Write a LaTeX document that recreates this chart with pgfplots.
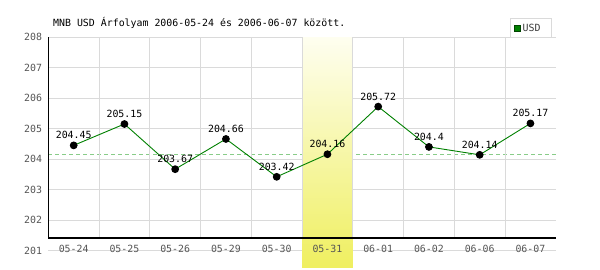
\documentclass[border=0pt]{standalone}
\usepackage{fontspec}
\setmainfont{DejaVu Sans Mono}
\usepackage{pgfplots}
\usepackage{pgfplotstable}
\pgfplotsset{compat=1.18}
\definecolor{gridgray}{HTML}{DADADA}
\definecolor{labelgray}{HTML}{555555}
\definecolor{linegreen}{HTML}{008000}
\definecolor{dashgreen}{HTML}{88CC88}
\definecolor{bandtop}{HTML}{FEFEF0}
\definecolor{bandbot}{HTML}{EFEF60}
\definecolor{sqborder}{HTML}{004400}

\pgfplotstableread{
x y label
0 204.45 204.45
1 205.15 205.15
2 203.67 203.67
3 204.66 204.66
4 203.42 203.42
5 204.16 204.16
6 205.72 205.72
7 204.40 204.4
8 204.14 204.14
9 205.17 205.17
}\usddata

\newcommand{\chartfont}{\fontsize{9.9}{11}\selectfont}

\begin{document}
\begin{tikzpicture}
\path[use as bounding box] (-48.3pt,-19.3pt) rectangle (551.7pt,250.7pt);
\begin{axis}[
  axis on top,
  at={(0pt,0pt)}, anchor=south west,
  scale only axis, width=507.5pt, height=213.7pt,
  xmin=-0.5, xmax=9.5, ymin=201, ymax=208,
  clip=false,
  axis line style={draw=none},
  major tick style={draw=none},
  xtick={0,1,2,3,4,5,6,7,8,9},
  xticklabels={05-24,05-25,05-26,05-29,05-30,05-31,06-01,06-02,06-06,06-07},
  ytick={201,202,203,204,205,206,207,208},
  yticklabels={201,202,203,204,205,206,207,208},
  ticklabel style={font=\chartfont, text=labelgray},
  xticklabel style={anchor=center, yshift=2.2pt, inner sep=0pt},
  yticklabel style={anchor=east, inner sep=0pt, xshift=-6pt},
  legend style={at={(rel axis cs:0.9925,0.995)}, anchor=south east,
    draw=gridgray, line width=1pt, fill=white, font=\chartfont, text=labelgray!70!black,
    inner xsep=3pt, inner ysep=3pt},
  legend image code/.code={\draw[draw=sqborder, fill=linegreen, line width=0.6pt] (0pt,-3.1pt) rectangle (6.2pt,3.1pt);},
]
% horizontal grid lines
\draw[gridgray, line width=1pt] (axis cs:-0.5,201) -- (axis cs:9.5,201);
\draw[gridgray, line width=1pt] (axis cs:-0.5,202) -- (axis cs:9.5,202);
\draw[gridgray, line width=1pt] (axis cs:-0.5,203) -- (axis cs:9.5,203);
\draw[gridgray, line width=1pt] (axis cs:-0.5,204) -- (axis cs:9.5,204);
\draw[gridgray, line width=1pt] (axis cs:-0.5,205) -- (axis cs:9.5,205);
\draw[gridgray, line width=1pt] (axis cs:-0.5,206) -- (axis cs:9.5,206);
\draw[gridgray, line width=1pt] (axis cs:-0.5,207) -- (axis cs:9.5,207);
\draw[gridgray, line width=1pt] (axis cs:-0.5,208) -- (axis cs:9.5,208);
% reference line at the highlighted day's value
\addplot[dashgreen, line width=1pt, dash pattern=on 4pt off 3pt, forget plot]
  coordinates {(-0.5,204.16) (9.5,204.16)};
% highlighted day
\shade[top color=bandtop, bottom color=bandbot] (axis cs:4.5,208) rectangle (axis cs:5.5,200.466);
% vertical separators
\draw[gridgray, line width=1pt] (axis cs:0.5,208) -- (axis cs:0.5,201.415);
\draw[gridgray, line width=1pt] (axis cs:1.5,208) -- (axis cs:1.5,201.415);
\draw[gridgray, line width=1pt] (axis cs:2.5,208) -- (axis cs:2.5,201.415);
\draw[gridgray, line width=1pt] (axis cs:3.5,208) -- (axis cs:3.5,201.415);
\draw[gridgray, line width=1pt] (axis cs:4.5,208) -- (axis cs:4.5,201.415);
\draw[gridgray, line width=1pt] (axis cs:5.5,208) -- (axis cs:5.5,201.415);
\draw[gridgray, line width=1pt] (axis cs:6.5,208) -- (axis cs:6.5,201.415);
\draw[gridgray, line width=1pt] (axis cs:7.5,208) -- (axis cs:7.5,201.415);
\draw[gridgray, line width=1pt] (axis cs:8.5,208) -- (axis cs:8.5,201.415);
% axis lines
\draw[black, line width=1.4pt] (axis cs:-0.5,208) -- (axis cs:-0.5,201.415) -- (axis cs:9.5,201.415);
% data
\addplot[color=linegreen, line width=0.9pt, mark=*, mark size=3.4pt,
  mark options={draw=black, fill=black},
  nodes near coords, point meta=explicit symbolic,
  nodes near coords style={font=\chartfont, text=black, anchor=south, inner sep=0pt, yshift=6pt}]
  table[x=x, y=y, meta=label] {\usddata};
\addlegendentry{USD\hspace*{6pt}}
\node[anchor=base west, inner sep=0pt, font=\chartfont, text=black, xshift=4.7pt, yshift=10.3pt]
  at (rel axis cs:0,1) {MNB USD Árfolyam 2006-05-24 és 2006-06-07 között.};
\end{axis}
\end{tikzpicture}
\end{document}
